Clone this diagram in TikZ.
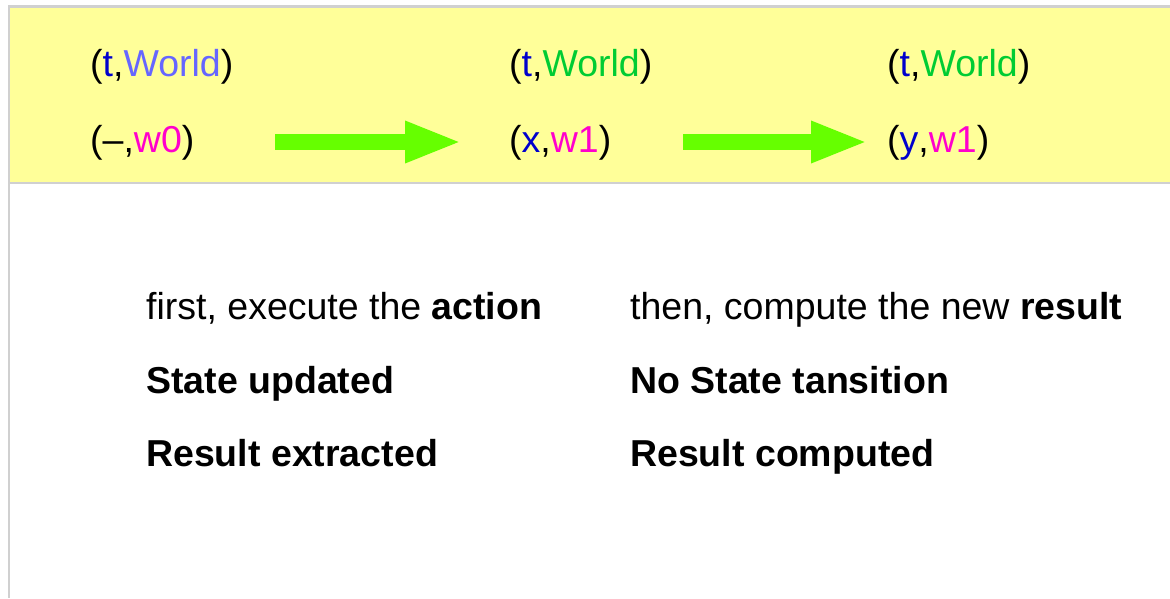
\documentclass[tikz,border=0pt]{standalone}
\usepackage{fontspec}
\setmainfont{Liberation Sans}
\usetikzlibrary{arrows.meta}
\definecolor{bandfill}{HTML}{FFFF99}
\definecolor{framegray}{HTML}{D0D0D0}
\definecolor{arrowgreen}{HTML}{66FF00}
\definecolor{varblue}{HTML}{0000CC}
\definecolor{worldlight}{HTML}{6666FF}
\definecolor{worldgreen}{HTML}{00CC33}
\definecolor{wmag}{HTML}{FF00CC}
\tikzset{
  pair/.style={anchor=base west, inner sep=0pt, font=\fontsize{37.5}{44}\selectfont},
  note/.style={anchor=base west, inner sep=0pt, font=\fontsize{37.5}{44}\selectfont},
  bigarrow/.style={draw=arrowgreen, line width=16pt,
    -{Triangle[length=57pt,width=38pt]}},
}
\begin{document}
\begin{tikzpicture}[x=1pt,y=-1pt]
\useasboundingbox (0,0) rectangle (1170,598);
% page frame and yellow band
\fill[white] (0,0) rectangle (1170,598);
\fill[framegray] (7.5,5) rectangle (1170,184);
\fill[bandfill] (10,7.5) rectangle (1170,181.5);
\fill[framegray] (7.5,184) rectangle (10,598);
% state pairs
\node[pair] (tw0) at (90,76) {(\textcolor{varblue}{t},\textcolor{worldlight}{World})};
\node[pair] (w0)  at (90,152) {(–,\textcolor{wmag}{w0})};
\node[pair] (tw1) at (509,76) {(\textcolor{varblue}{t},\textcolor{worldgreen}{World})};
\node[pair] (x1)  at (509,152) {(\textcolor{varblue}{x},\textcolor{wmag}{w1})};
\node[pair] (tw2) at (887,76) {(\textcolor{varblue}{t},\textcolor{worldgreen}{World})};
\node[pair] (y1)  at (887,152) {(\textcolor{varblue}{y},\textcolor{wmag}{w1})};
% transitions
\coordinate (a1s) at (275,142);
\coordinate (a1e) at (462,142);
\coordinate (a2s) at (683,142);
\coordinate (a2e) at (868,142);
\draw[bigarrow] (a1s) -- (a1e);
\draw[bigarrow] (a2s) -- (a2e);
% explanations
\node[note] (n1) at (146,319) {first, execute the \textbf{action}};
\node[note] (n2) at (146,393) {\textbf{State updated}};
\node[note] (n3) at (146,466) {\textbf{Result extracted}};
\node[note] (m1) at (630,319) {then, compute the new \textbf{result}};
\node[note] (m2) at (630,393) {\textbf{No State tansition}};
\node[note] (m3) at (630,466) {\textbf{Result computed}};
\end{tikzpicture}
\end{document}
